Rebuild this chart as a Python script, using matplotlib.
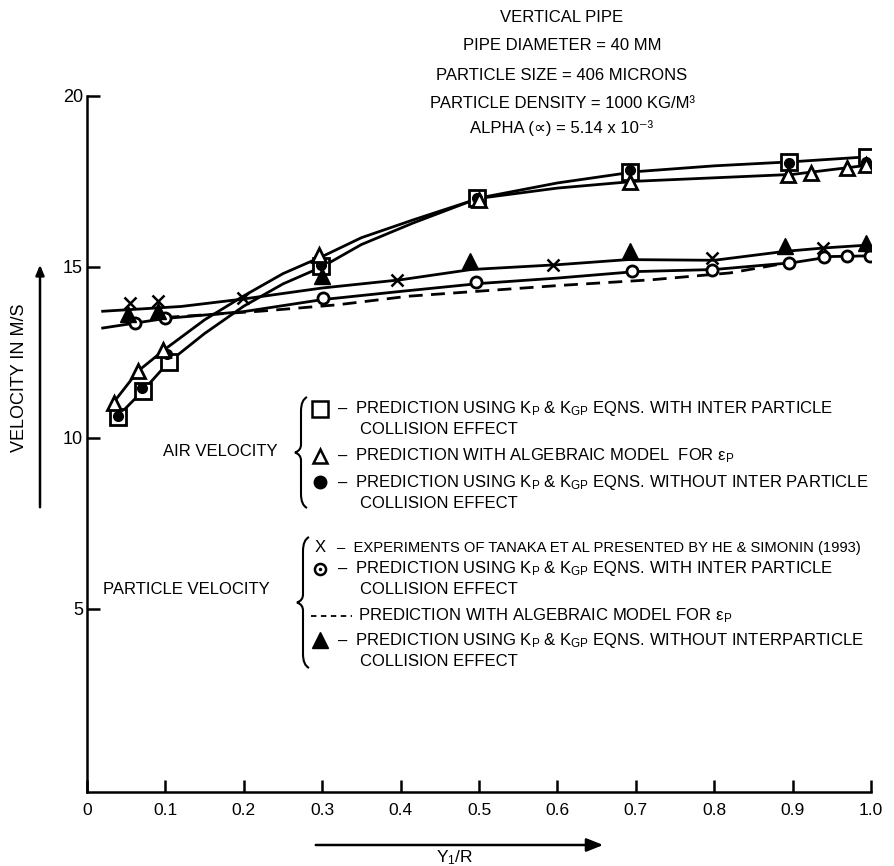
import matplotlib
matplotlib.use('Agg')
import matplotlib.pyplot as plt
from matplotlib import font_manager
from matplotlib.lines import Line2D
from matplotlib.path import Path
from matplotlib.patches import PathPatch, FancyArrowPatch

# ---------------- data ----------------
# Air velocity
air_sq_x = [0.039, 0.071, 0.104, 0.299, 0.498, 0.692, 0.896, 0.995]
air_sq_y = [10.62, 11.37, 12.21, 15.01, 17.01, 17.78, 18.07, 18.22]
air_tri_x = [0.035, 0.065, 0.097, 0.296, 0.500, 0.692, 0.894, 0.924, 0.969, 0.994]
air_tri_y = [11.03, 11.95, 12.58, 15.35, 16.95, 17.49, 17.69, 17.75, 17.88, 17.98]
air_dot_x = [0.039, 0.070, 0.102, 0.298, 0.497, 0.692, 0.896, 0.994]
air_dot_y = [10.63, 11.46, 12.44, 15.05, 17.00, 17.83, 18.03, 18.07]

air_line1_x = [0.033, 0.040, 0.071, 0.104, 0.150, 0.200, 0.250, 0.300, 0.350, 0.416, 0.500, 0.600, 0.700, 0.800, 0.900, 1.000]
air_line1_y = [10.50, 10.65, 11.37, 12.21, 13.05, 13.85, 14.50, 15.00, 15.65, 16.28, 17.01, 17.45, 17.78, 17.95, 18.07, 18.22]
air_line2_x = [0.031, 0.065, 0.100, 0.150, 0.200, 0.250, 0.300, 0.350, 0.416, 0.500, 0.600, 0.700, 0.800, 0.900, 1.000]
air_line2_y = [10.95, 11.95, 12.60, 13.45, 14.15, 14.80, 15.30, 15.85, 16.37, 17.00, 17.30, 17.50, 17.60, 17.70, 17.98]

# Particle velocity
part_x_x = [0.055, 0.091, 0.199, 0.395, 0.595, 0.797, 0.939]
part_x_y = [13.94, 13.99, 14.09, 14.62, 15.06, 15.26, 15.55]
part_tri_x = [0.052, 0.090, 0.300, 0.489, 0.693, 0.890, 0.994]
part_tri_y = [13.62, 13.72, 14.72, 15.16, 15.45, 15.60, 15.69]
part_circ_x = [0.061, 0.099, 0.301, 0.496, 0.695, 0.797, 0.896, 0.940, 0.970, 0.999]
part_circ_y = [13.36, 13.51, 14.09, 14.55, 14.87, 14.90, 15.11, 15.29, 15.32, 15.32]

part_up_x = [0.020, 0.120, 0.200, 0.300, 0.400, 0.490, 0.600, 0.690, 0.800, 0.890, 0.940, 1.000]
part_up_y = [13.70, 13.84, 14.06, 14.38, 14.62, 14.92, 15.06, 15.21, 15.19, 15.45, 15.55, 15.64]
part_lo_x = [0.020, 0.100, 0.200, 0.300, 0.400, 0.500, 0.600, 0.700, 0.800, 0.900, 0.950, 1.000]
part_lo_y = [13.21, 13.49, 13.69, 14.04, 14.28, 14.51, 14.67, 14.86, 14.92, 15.12, 15.30, 15.32]
part_dash_x = [0.100, 0.220, 0.320, 0.410, 0.600, 0.720, 0.820, 0.880]
part_dash_y = [13.52, 13.70, 13.89, 14.14, 14.45, 14.62, 14.82, 15.06]

x_ticks = [0, 0.1, 0.2, 0.3, 0.4, 0.5, 0.6, 0.7, 0.8, 0.9, 1.0]
x_tick_labels = ['0', '0.1', '0.2', '0.3', '0.4', '0.5', '0.6', '0.7', '0.8', '0.9', '1.0']
y_ticks = [5, 10, 15, 20]
y_tick_labels = ['5', '10', '15', '20']

title_lines = ['VERTICAL PIPE', 'PIPE DIAMETER = 40 MM', 'PARTICLE SIZE = 406 MICRONS',
               'PARTICLE DENSITY = 1000 KG/M\u00b3', 'ALPHA (\u221d) = 5.14 x 10\u207b\u00b3']

# ---------------- fonts ----------------
names = {f.name for f in font_manager.fontManager.ttflist}
main = 'Liberation Sans Narrow' if 'Liberation Sans Narrow' in names else 'Liberation Sans'
FAM = [main, 'DejaVu Sans']
plt.rcParams['font.family'] = FAM
plt.rcParams['mathtext.fontset'] = 'custom'
plt.rcParams['mathtext.rm'] = main
plt.rcParams['mathtext.it'] = main
plt.rcParams['mathtext.bf'] = main

W, H = 894, 866
fig = plt.figure(figsize=(W / 100, H / 100), dpi=100)
fig.patch.set_facecolor('white')

X0, X1, YB, YT = 87, 871, 792, 95.7
ax = fig.add_axes([X0 / W, 1 - YB / H, (X1 - X0) / W, (YB - YT) / H])
ax.set_xlim(0, 1.0)
ax.set_ylim(-0.35, 20)
for s in ['top', 'right']:
    ax.spines[s].set_visible(False)
for s in ['left', 'bottom']:
    ax.spines[s].set_linewidth(1.8)
ax.set_xticks(x_ticks)
ax.set_xticklabels(x_tick_labels, fontsize=12.5, family=FAM)
ax.set_yticks(y_ticks)
ax.set_yticklabels(y_tick_labels, fontsize=13, family=FAM)
ax.tick_params(axis='x', direction='in', length=9, width=1.8, pad=8)
ax.tick_params(axis='y', direction='in', length=9, width=1.8, pad=3)

LW = 2.0
ax.plot(air_line1_x, air_line1_y, color='black', lw=LW)
ax.plot(air_line2_x, air_line2_y, color='black', lw=LW)
ax.plot(part_up_x, part_up_y, color='black', lw=LW)
ax.plot(part_lo_x, part_lo_y, color='black', lw=LW)
ax.plot(part_dash_x, part_dash_y, color='black', lw=LW, ls=(0, (5, 3)))

ax.plot(air_sq_x, air_sq_y, ls='none', marker='s', ms=12, mfc='white', mec='black', mew=2)
ax.plot(air_dot_x, air_dot_y, ls='none', marker='o', ms=7, mfc='black', mec='black')
ax.plot(air_tri_x, air_tri_y, ls='none', marker='^', ms=10, mfc='white', mec='black', mew=2)
ax.plot(part_circ_x, part_circ_y, ls='none', marker='o', ms=8, mfc='white', mec='black', mew=2)
ax.plot(part_tri_x, part_tri_y, ls='none', marker='^', ms=12, mfc='black', mec='black')
ax.plot(part_x_x, part_x_y, ls='none', marker='x', ms=8, mec='black', mew=1.8)


def fx(x):
    return x / W


def fy(y):
    return 1 - y / H


def T(x, y, s, ha='left', fs=12, **kw):
    fig.text(fx(x), fy(y), s, ha=ha, va='center', fontsize=fs, family=FAM, **kw)


def M(x, y, **kw):
    fig.add_artist(Line2D([fx(x)], [fy(y)], transform=fig.transFigure, ls='none', **kw))


def brace(x, ytop, ybot):
    ym = (ytop + ybot) / 2
    pts = [(x + 7, ytop), (x + 1, ytop + 3), (x + 1, ytop + 14),
           (x + 1, ym - 8),
           (x + 1, ym - 2), (x - 5, ym),
           (x + 1, ym + 2), (x + 1, ym + 8),
           (x + 1, ybot - 14),
           (x + 1, ybot - 3), (x + 7, ybot)]
    codes = [Path.MOVETO, Path.CURVE3, Path.CURVE3, Path.LINETO,
             Path.CURVE3, Path.CURVE3, Path.CURVE3, Path.CURVE3,
             Path.LINETO, Path.CURVE3, Path.CURVE3]
    verts = [(fx(a), fy(b)) for a, b in pts]
    fig.add_artist(PathPatch(Path(verts, codes), transform=fig.transFigure,
                             fill=False, lw=1.5, ec='black'))


# title block
for s, y in zip(title_lines, [17, 46, 75, 103, 128]):
    T(562, y, s, ha='center', fs=12)

# legend
KP = 'K$_\\mathrm{P}$'
KGP = 'K$_\\mathrm{GP}$'
EP = '\u03b5$_\\mathrm{P}$'
brace(300, 397, 508)
T(220, 452, 'AIR VELOCITY', ha='center')
M(320, 409, marker='s', ms=11, mfc='white', mec='black', mew=1.8)
T(337, 409, '\u2013  PREDICTION USING ' + KP + ' & ' + KGP + ' EQNS. WITH INTER PARTICLE')
T(360, 430, 'COLLISION EFFECT')
M(320, 456, marker='^', ms=10, mfc='white', mec='black', mew=1.8)
T(337, 456, '\u2013  PREDICTION WITH ALGEBRAIC MODEL  FOR ' + EP)
M(320, 482, marker='o', ms=9, mfc='black', mec='black')
T(337, 482, '\u2013  PREDICTION USING ' + KP + ' & ' + KGP + ' EQNS. WITHOUT INTER PARTICLE')
T(360, 503, 'COLLISION EFFECT')

brace(302, 537, 668)
T(186, 590, 'PARTICLE VELOCITY', ha='center')
T(320, 548, 'X', ha='center')
T(337, 548, '\u2013  EXPERIMENTS OF TANAKA ET AL PRESENTED BY HE & SIMONIN (1993)', fs=10.6)
M(320, 569, marker='o', ms=8, mfc='white', mec='black', mew=1.8)
M(320, 569, marker='.', ms=3, mfc='black', mec='black')
T(337, 569, '\u2013  PREDICTION USING ' + KP + ' & ' + KGP + ' EQNS. WITH INTER PARTICLE')
T(360, 590, 'COLLISION EFFECT')
fig.add_artist(Line2D([fx(311), fx(352)], [fy(616), fy(616)], transform=fig.transFigure,
                      color='black', lw=1.3, ls=(0, (3, 2.5))))
T(358, 616, 'PREDICTION WITH ALGEBRAIC MODEL FOR ' + EP)
M(320, 640, marker='^', ms=11, mfc='black', mec='black')
T(337, 640, '\u2013  PREDICTION USING ' + KP + ' & ' + KGP + ' EQNS. WITHOUT INTERPARTICLE')
T(360, 661, 'COLLISION EFFECT')

# axis labels with arrows
T(20, 378, 'VELOCITY IN M/S', ha='center', rotation=90, fs=13)
fig.add_artist(FancyArrowPatch((fx(40), fy(510)), (fx(40), fy(262)),
               transform=fig.transFigure, arrowstyle='-|>,head_length=6,head_width=2.5',
               lw=1.8, color='black', mutation_scale=1))
fig.add_artist(FancyArrowPatch((fx(313), fy(845)), (fx(606), fy(845)),
               transform=fig.transFigure, arrowstyle='-|>,head_length=10,head_width=4',
               lw=1.8, color='black', mutation_scale=1))
T(455, 858, 'Y$_1$/R', ha='center', fs=12.5)

fig.savefig('out.png', dpi=100, facecolor='white')
